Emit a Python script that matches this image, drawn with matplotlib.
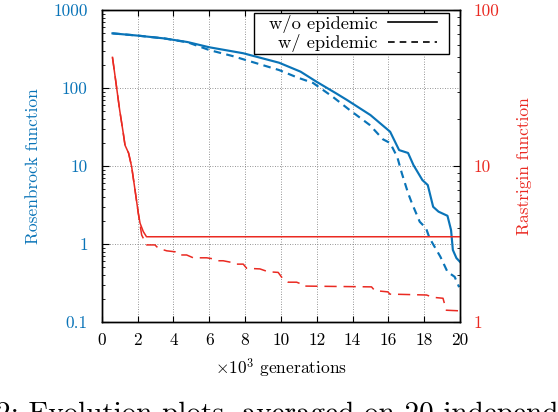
import numpy as np
import matplotlib
matplotlib.use("Agg")
import matplotlib.pyplot as plt
from matplotlib.lines import Line2D
from matplotlib.patches import Rectangle
from matplotlib.ticker import FixedLocator, FixedFormatter, LogLocator, NullFormatter

plt.rcParams['font.family'] = 'serif'
plt.rcParams['font.serif'] = ['cmr10', 'DejaVu Serif']
plt.rcParams['mathtext.fontset'] = 'cm'
plt.rcParams['axes.unicode_minus'] = False

BLUE = '#0A74B8'
RED = '#EA2A22'

# Rosenbrock (left axis), generations in thousands
ros_gen = [0.6, 2.0, 3.5, 4.8, 6.0, 7.9, 9.9, 11.1, 12.0, 13.1, 13.7, 15.0, 16.1, 16.6,
           17.1, 17.4, 17.9, 18.2, 18.5, 18.8, 19.3, 19.5, 19.6, 19.8, 20.0]
ros_plain = [502, 470, 432, 388, 333, 279, 211, 162, 120, 85, 70, 45, 27.5, 16,
             14.7, 10.3, 6.6, 5.7, 3.0, 2.6, 2.3, 1.51, 0.84, 0.66, 0.59]
ros_epi_gen = [0.6, 2.0, 3.5, 4.8, 6.0, 7.3, 9.9, 10.9, 11.8, 12.9, 13.85, 14.96, 15.7,
               16.1, 16.5, 16.75, 17.1, 17.3, 17.75, 18.1, 18.3, 18.9, 19.3, 19.7, 19.95]
ros_epi = [502, 470, 432, 385, 307, 257, 170, 137, 116, 77, 52, 33.6, 22,
           19.7, 13, 8.1, 4.5, 3.4, 1.93, 1.6, 1.19, 0.69, 0.44, 0.38, 0.28]

# Rastrigin (right axis)
ras_gen = [0.6, 0.75, 1.0, 1.2, 1.3, 1.5, 1.67, 1.86, 2.04, 2.14, 2.32, 2.5, 20]
ras_plain = [49.7, 37.3, 22.9, 16.3, 13.6, 12.1, 9.9, 7.0, 5.0, 4.3, 3.8, 3.52, 3.52]
ras_epi_gen = [0.6, 0.75, 1.0, 1.2, 1.3, 1.5, 1.67, 1.86, 2.04, 2.23, 2.51, 2.97, 3.16,
               3.63, 4.09, 4.27, 4.74, 5.11, 5.86, 6.32, 6.5, 6.78, 7.25, 7.43, 7.9,
               8.09, 8.83, 9.29, 9.85, 10.04, 10.22, 10.41, 10.88, 11.15, 11.24, 15.06,
               15.24, 15.98, 16.08, 18.13, 18.49, 19.05, 19.15, 19.24, 19.95]
ras_epi = [49.7, 37.3, 22.9, 16.3, 13.6, 12.1, 9.9, 7.0, 5.0, 3.61, 3.12, 3.12, 2.97,
           2.86, 2.82, 2.69, 2.69, 2.58, 2.58, 2.53, 2.47, 2.47, 2.41, 2.35, 2.35,
           2.21, 2.19, 2.10, 2.08, 1.94, 1.86, 1.80, 1.80, 1.75, 1.70, 1.68,
           1.59, 1.56, 1.51, 1.49, 1.44, 1.42, 1.29, 1.19, 1.18]

x_ticks = [0, 2, 4, 6, 8, 10, 12, 14, 16, 18, 20]
left_ticks = [0.1, 1, 10, 100, 1000]
left_labels = ['0.1', '1', '10', '100', '1000']
right_ticks = [1, 10, 100]
right_labels = ['1', '10', '100']
legend_labels = ['w/o epidemic', 'w/ epidemic']
caption = '2: Evolution plots, averaged on 20 independent runs'

fs = 12.5
fig = plt.figure(figsize=(5.58, 4.12), dpi=100)
ax = fig.add_axes([0.1823, 0.2184, 0.6421, 0.7573])
ax2 = ax.twinx()

ax.plot(ros_gen, ros_plain, color=BLUE, lw=1.55)
ax.plot(ros_epi_gen, ros_epi, color=BLUE, lw=1.55, dashes=(3.5, 2.5))
ax2.plot(ras_gen, ras_plain, color=RED, lw=1.1)
ax2.plot(ras_epi_gen, ras_epi, color=RED, lw=1.1, dashes=(8, 4.5))

ax.set_xlim(0, 20)
ax.set_yscale('log')
ax.set_ylim(0.1, 1000)
ax2.set_yscale('log')
ax2.set_ylim(1, 100)

ax.xaxis.set_major_locator(FixedLocator(x_ticks))
ax.set_xticklabels([str(t) for t in x_ticks])
ax.yaxis.set_major_locator(FixedLocator(left_ticks))
ax.yaxis.set_major_formatter(FixedFormatter(left_labels))
ax.yaxis.set_minor_locator(LogLocator(base=10, subs=np.arange(2, 10)))
ax.yaxis.set_minor_formatter(NullFormatter())
ax2.yaxis.set_major_locator(FixedLocator(right_ticks))
ax2.yaxis.set_major_formatter(FixedFormatter(right_labels))
ax2.yaxis.set_minor_locator(LogLocator(base=10, subs=np.arange(2, 10)))
ax2.yaxis.set_minor_formatter(NullFormatter())

ax.tick_params(axis='x', which='major', direction='in', top=True, length=4,
               labelsize=fs, pad=8, colors='black')
ax.tick_params(axis='y', which='both', direction='in', left=True, right=False,
               labelsize=fs, labelcolor=BLUE, pad=10, color='black')
ax.tick_params(axis='y', which='major', length=5)
ax.tick_params(axis='y', which='minor', length=2.5)
ax2.tick_params(axis='y', which='both', direction='in', right=True,
                labelsize=fs, labelcolor=RED, pad=10, color='black')
ax2.tick_params(axis='y', which='major', length=5)
ax2.tick_params(axis='y', which='minor', length=2.5)

ax.grid(True, which='major', linestyle=(0, (1, 2)), color='0.45', lw=0.6)
for a in (ax, ax2):
    for s in a.spines.values():
        s.set_linewidth(1.0)

ax.set_xlabel(r'$\times10^3$ generations', fontsize=fs, labelpad=6)
ax.set_ylabel('Rosenbrock function', fontsize=fs, color=BLUE, labelpad=9)
ax2.set_ylabel('Rastrigin function', fontsize=fs, color=RED, labelpad=12)

# legend frame drawn by hand so the padding matches
ax2.add_patch(Rectangle((0.425, 0.859), 0.545, 0.1305, transform=ax2.transAxes,
                        facecolor='white', edgecolor='black', lw=1.0, zorder=4))
handles = [Line2D([], [], color='black', lw=1.2),
           Line2D([], [], color='black', lw=1.2, dashes=(4, 3))]
leg = ax2.legend(handles, legend_labels, loc='upper right',
                 bbox_to_anchor=(0.937, 0.985), borderaxespad=0, markerfirst=False,
                 fontsize=13.3, handlelength=2.7, labelspacing=0.08, borderpad=0.0,
                 handletextpad=0.55, frameon=False)
leg.set_zorder(5)

fig.text(-0.008, -0.024, caption, fontsize=21, ha='left', va='baseline')

fig.savefig('out.png', dpi=100)
